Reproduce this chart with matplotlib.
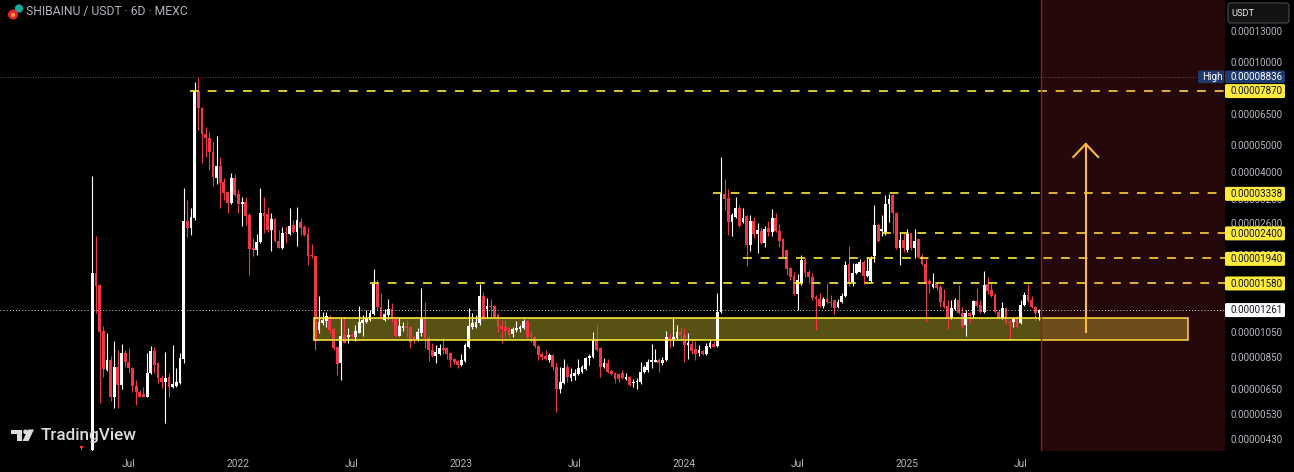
import numpy as np
import matplotlib
matplotlib.use("Agg")
import matplotlib.pyplot as plt
from matplotlib.patches import Rectangle, Circle, FancyBboxPatch, Polygon

nan = float("nan")
UNIT = 1e-8  # the lists below are prices in units of 0.00000001 USDT
FIRST_BAR = -3

opens = [405, nan, nan,
 392,1721,1557,1055,767,833,613,786,677,883,
 819,780,671,639,628,613,748,898,813,717,
 694,723,666,671,688,840,2656,2506,2723,7851,
 6813,5484,5304,4718,3801,4200,3676,3382,3086,3801,
 3326,3060,3112,2792,2120,2085,2229,2839,2816,2464,
 2701,2248,2120,2423,2383,2569,2410,2634,2515,2383,
 2000,1984,1070,1134,1153,1193,1079,929,813,1026,
 1009,1026,1009,1044,1134,1144,1163,1223,1570,1296,
 1163,1213,1275,1173,1018,1088,1100,1095,1015,985,
 1044,1173,1001,906,861,876,921,921,883,840,
 826,799,826,929,1097,1097,1134,1421,1275,1307,
 1307,1213,1106,1097,1088,1035,1070,1079,1088,1150,
 1026,1009,937,876,861,833,869,786,655,688,
 783,717,729,742,754,773,847,854,985,921,
 786,813,760,748,742,748,711,723,688,690,
 690,754,767,819,819,833,810,833,1009,993,
 1001,1052,1026,944,952,913,883,898,876,929,
 952,937,1243,3326,3217,2634,2746,2960,2634,2769,
 2174,2656,2383,2444,2211,2495,2423,2730,2435,2286,
 2085,1794,1679,1445,1584,1918,1735,1665,1409,1386,
 1307,1386,1352,1370,1296,1352,1421,1855,1597,1721,
 1735,1886,1679,1610,1985,2569,2444,2423,3060,3299,
 2839,2120,2267,2085,2403,2120,2286,1984,1855,1610,
 1532,1570,1532,1363,1307,1183,1275,1374,1233,1116,
 1233,1213,1363,1318,1243,1570,1494,1433,1243,1183,
 1280,1144,1144,1193,1130,1318,1433,1374,1296,1233]

highs = [405, nan, nan,
 3865,2344,1570,1106,1044,861,976,906,952,906,
 921,786,706,649,666,883,937,929,819,736,
 891,748,944,780,883,3497,3164,2960,8463,8836,
 6870,5814,5576,5130,5393,4526,3801,3411,3962,3929,
 3439,3244,3244,2839,2305,2383,3497,3244,2985,2839,
 2723,2464,2527,2540,2960,2678,2985,2723,2569,2527,
 2193,1984,1421,1243,1243,1213,1088,929,1193,1193,
 1088,1044,1116,1307,1213,1264,1264,1779,1624,1457,
 1275,1386,1340,1193,1193,1144,1163,1100,1018,1088,
 1519,1352,1015,960,944,952,1009,929,891,847,
 833,876,960,1285,1233,1213,1570,1469,1397,1386,
 1318,1233,1163,1163,1097,1097,1153,1116,1173,1160,
 1070,1018,944,891,906,883,876,819,786,840,
 806,780,773,840,799,854,876,1052,1125,929,
 847,840,773,754,748,767,748,729,711,717,
 819,799,840,952,913,847,854,1061,1044,1183,
 1116,1097,1088,1044,993,976,944,906,960,993,
 976,1457,4526,3769,3468,2839,3244,3035,2960,2792,
 2792,2746,2612,2527,2548,2656,2936,2839,2590,2305,
 2085,1809,1735,1707,2000,1967,1765,1721,1433,1457,
 1409,1584,1433,1374,1386,1457,1902,2156,1871,1871,
 1934,1918,1967,1985,3035,2612,2792,3299,3326,3326,
 2863,2403,2403,2485,2403,2485,2305,2017,1951,1637,
 1721,1584,1557,1506,1374,1374,1397,1557,1296,1264,
 1243,1374,1519,1374,1750,1665,1584,1457,1264,1352,
 1285,1163,1193,1202,1374,1469,1570,1415,1307,1270]

lows = [392, nan, nan,
 388,1233,583,723,760,588,555,559,655,786,
 748,639,573,608,610,610,742,748,688,660,
 492,613,660,666,683,813,2325,2364,2678,5670,
 4306,4526,4062,3556,3616,2960,3164,2839,3060,3271,
 2839,2548,2569,1693,1984,2000,2211,2403,2423,2068,
 2229,2110,2105,2211,2364,2403,2156,2364,2344,1840,
 1951,906,1044,1116,1097,1044,906,736,706,955,
 955,1000,976,1040,1018,1134,1150,1213,1264,1163,
 1153,1173,1144,1009,1012,1061,1009,921,955,976,
 1015,921,826,854,813,869,876,840,786,806,
 780,793,819,921,1079,1090,1116,1163,1183,1183,
 1183,1052,960,1009,1009,1009,1052,1052,1079,1001,
 968,921,833,833,833,819,767,537,633,683,
 694,700,706,736,748,767,799,847,898,723,
 780,748,736,688,694,711,706,671,666,655,
 683,748,754,780,815,754,799,826,921,937,
 985,976,819,840,876,833,861,869,869,921,
 925,929,1233,2911,2364,2344,2730,2527,2610,1825,
 2068,2305,2034,2190,2138,2344,2344,2423,2138,1951,
 1693,1624,1433,1264,1557,1665,1584,1374,1070,1296,
 1285,1340,1296,1223,1285,1340,1409,1544,1544,1705,
 1730,1570,1665,1597,1886,2230,2344,2364,2634,2403,
 2105,1840,2051,2051,2085,1951,1951,1840,1144,1457,
 1520,1494,1296,1285,1079,1175,1264,1223,1090,1018,
 1134,1195,1296,1233,1233,1445,1409,1233,1170,1170,
 1125,993,1097,1088,1120,1307,1345,1285,1153,1160]

closes = [400, nan, nan,
 1721,1544,1046,773,833,608,786,677,883,819,
 780,671,639,613,613,748,898,799,717,694,
 717,666,683,694,847,2656,2506,2746,7851,6813,
 5484,5304,4718,3833,4200,3646,3354,3086,3801,3299,
 3060,3112,2769,2103,2085,2229,2839,2769,2464,2701,
 2248,2120,2403,2403,2548,2423,2678,2506,2364,1984,
 1984,976,1144,1163,1202,1070,921,806,1018,960,
 1026,1015,1061,1144,1163,1183,1233,1570,1296,1173,
 1223,1275,1173,1018,1106,1106,1088,968,985,1052,
 1173,1001,906,861,891,921,906,876,833,819,
 799,833,945,1106,1134,1140,1421,1173,1307,1296,
 1193,1097,1079,1061,1026,1079,1088,1097,1153,1009,
 1009,937,869,854,840,869,786,655,694,780,
 723,742,748,780,783,847,861,985,906,786,
 813,754,742,711,711,717,723,677,694,700,
 754,783,819,833,833,813,833,1009,993,1009,
 1052,1026,944,960,898,876,906,876,937,960,
 929,1243,3326,3190,2634,2792,2960,2548,2730,2174,
 2656,2383,2464,2211,2485,2423,2730,2435,2248,1967,
 1779,1665,1445,1624,1918,1721,1665,1397,1386,1307,
 1386,1352,1340,1285,1352,1421,1840,1584,1721,1855,
 1886,1679,1750,1934,2569,2248,2485,3060,3190,2839,
 2120,2267,2110,2383,2110,2248,1967,1855,1570,1570,
 1570,1519,1352,1296,1183,1285,1374,1233,1106,1233,
 1202,1363,1307,1243,1557,1481,1421,1243,1183,1285,
 1134,1134,1173,1097,1318,1433,1363,1296,1233,1261]

x_tick_bars = [10, 40, 71, 101, 132, 162, 193, 223, 254]
x_tick_labels = ["Jul", "2022", "Jul", "2023", "Jul", "2024", "Jul", "2025", "Jul"]
y_ticks = [13000, 10000, 6500, 5000, 4000, 3200, 2600, 2000, 1050, 850, 650, 530, 430]

level_prices = [7870, 3338, 2400, 1940, 1580]
level_start_bars = [26.7, 169.8, 216, 178, 76]
zone_top, zone_bottom = 1180, 979
zone_bars = (60.7, 299.8)
last_price, high_price = 1261, 8836
forecast_start_bar = 259.6
arrow_bar, arrow_from, arrow_to, arrow_neck, arrow_half = 271.8, 1052, 5045, 4526, 3.4

WIDTH, HEIGHT, DPI = 1294, 472, 100
BG = "#000000"
RED = "#f23645"
WHITE = "#ffffff"
YELLOW = "#ffeb3b"
TXT = "#b2b5be"
NAVY = "#1e3a6e"
FS = 7.1
plt.rcParams["font.family"] = ["Roboto", "DejaVu Sans"]

o, h, l, c = [np.array(a, float) * UNIT for a in (opens, highs, lows, closes)]
bars = np.arange(len(o)) + FIRST_BAR

fig = plt.figure(figsize=(WIDTH / DPI, HEIGHT / DPI), dpi=DPI, facecolor=BG)
ax = fig.add_axes([0, 21 / HEIGHT, 1225 / WIDTH, 451 / HEIGHT], facecolor=BG)
ax.set_yscale("log")
ax.set_xlim(-25.25, 309.9)
ax.set_ylim(389 * UNIT, 16776 * UNIT)
for s in ax.spines.values():
    s.set_visible(False)

up = c >= o
colors = np.where(up, WHITE, RED)
valid = ~np.isnan(o)
ax.vlines(bars[valid], l[valid], h[valid], colors=colors[valid], lw=0.8, zorder=3)
ax.bar(bars[valid], np.abs(c - o)[valid], bottom=np.minimum(o, c)[valid], width=0.76,
       color=colors[valid], linewidth=0, zorder=3)

ax.add_patch(Rectangle((zone_bars[0], zone_bottom * UNIT), zone_bars[1] - zone_bars[0],
                       (zone_top - zone_bottom) * UNIT, facecolor=YELLOW, alpha=0.35, lw=0, zorder=2))
ax.add_patch(Rectangle((zone_bars[0], zone_bottom * UNIT), zone_bars[1] - zone_bars[0],
                       (zone_top - zone_bottom) * UNIT, fill=False, edgecolor=YELLOW, lw=1.15, zorder=4))

for p, b in zip(level_prices, level_start_bars):
    ax.plot([b, ax.get_xlim()[1]], [p * UNIT, p * UNIT], color=YELLOW, lw=1.2,
            ls=(0, (5.3, 5.3)), zorder=4, dash_capstyle="butt")

ax.plot([arrow_bar, arrow_bar], [arrow_from * UNIT, arrow_to * UNIT], color="#ffd23c", lw=1.5, zorder=4)
ax.plot([arrow_bar - arrow_half, arrow_bar, arrow_bar + arrow_half],
        [arrow_neck * UNIT, arrow_to * UNIT, arrow_neck * UNIT], color="#ffd23c", lw=1.5, zorder=4)

ax.axvspan(forecast_start_bar, ax.get_xlim()[1], facecolor=RED, alpha=0.15, lw=0, zorder=5)
ax.axvline(forecast_start_bar, color="#8f1d25", lw=1.0, zorder=5)

ax.axhline(last_price * UNIT, color="#d8d8d8", lw=0.7, ls=(0, (1, 2.2)), zorder=6)
ax.plot([ax.get_xlim()[0], 302], [high_price * UNIT] * 2, color="#6a6d78", lw=0.6, ls=(0, (1, 2)), zorder=1)

ax.yaxis.tick_right()
ax.set_yticks([t * UNIT for t in y_ticks])
ax.set_yticklabels([f"{t * UNIT:.8f}" for t in y_ticks])
ax.minorticks_off()
ax.tick_params(axis="y", length=0, pad=3.9, labelsize=FS, labelcolor=TXT)
ax.set_xticks(x_tick_bars)
ax.set_xticklabels(x_tick_labels)
ax.tick_params(axis="x", length=0, pad=6.0, labelsize=FS + 0.2, labelcolor=TXT)

# Chrome drawn on a full-figure layer measured in pixels
fig.canvas.draw()
pane = fig.add_axes([0, 0, 1, 1], facecolor="none")
pane.set_xlim(0, WIDTH)
pane.set_ylim(HEIGHT, 0)
pane.axis("off")


def price_y(p):
    return HEIGHT - ax.transData.transform((0, p * UNIT))[1]


def tag(x0, x1, yc, face, text, color, tx, hh=7.0):
    pane.add_patch(FancyBboxPatch((x0, yc - hh), x1 - x0, 2 * hh,
                                  boxstyle="round,pad=0,rounding_size=1.5", facecolor=face, lw=0, zorder=10))
    pane.text(tx, yc + 0.4, text, color=color, fontsize=FS, va="center", ha="left", zorder=11)


for p in level_prices:
    tag(1225, 1285, price_y(p) + 0.4, YELLOW, f"{p * UNIT:.8f}", "#131722", 1230.6)
tag(1225, 1285, price_y(last_price), WHITE, f"{last_price * UNIT:.8f}", "#131722", 1230.6)
tag(1225, 1285, price_y(high_price), NAVY, f"{high_price * UNIT:.8f}", WHITE, 1230.6, hh=6.3)
tag(1198, 1224, price_y(high_price), NAVY, "High", WHITE, 1202, hh=6.3)

pane.add_patch(FancyBboxPatch((1228, 3), 61, 20, boxstyle="round,pad=0,rounding_size=2.5",
                              facecolor="#131313", edgecolor="#4a4a4a", lw=0.8, zorder=10))
pane.text(1231, 13, "USDT", color="#e8e8e8", fontsize=6.7, va="center", ha="left", zorder=11)

pane.text(26, 12, "SHIBAINU / USDT · 6D · MEXC", color=TXT, fontsize=8.7, va="center", ha="left")
pane.add_patch(Circle((19, 8.5), 4.2, facecolor="#19a79c", lw=0))
pane.add_patch(Circle((13, 14.5), 5.0, facecolor="#e8242c", lw=0))
pane.add_patch(Circle((13, 15), 2.0, facecolor="#f0a030", lw=0))

mark = "#dcdcdc"
pane.add_patch(Polygon([(11, 429.5), (22, 429.5), (22, 441), (16.5, 441), (16.5, 434), (11, 434)], facecolor=mark, lw=0))
pane.add_patch(Circle((25.5, 431.8), 2.3, facecolor=mark, lw=0))
pane.add_patch(Polygon([(28, 429.5), (34, 429.5), (28.5, 441), (22.5, 441)], facecolor=mark, lw=0))
pane.text(40.5, 435.5, "TradingView", color=mark, fontsize=12.3, fontweight="medium", va="center", ha="left")

fig.savefig("out.png", dpi=DPI, facecolor=BG)
